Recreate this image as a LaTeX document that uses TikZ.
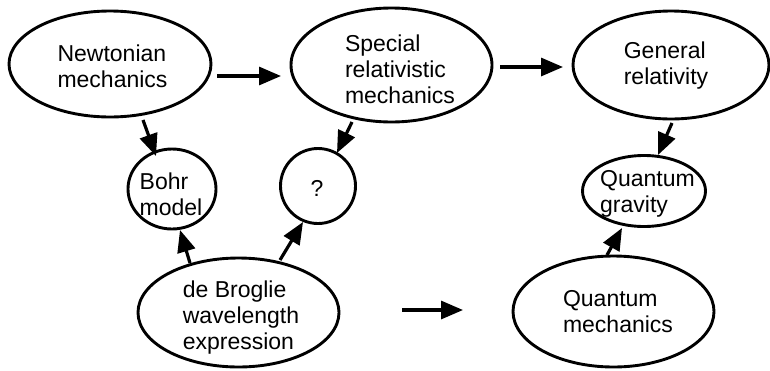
\documentclass[tikz,border=0pt]{standalone}
\usepackage{fontspec}
\setmainfont{Liberation Sans}
\usetikzlibrary{shapes.geometric,arrows.meta,calc}
\tikzset{
  ell/.style={draw, ellipse, line width=2.9pt, inner sep=0pt},
  txt/.style={inner sep=0pt, align=left, font=\fontsize{23}{26}\selectfont},
  arr/.style={line width=3.2pt, -{Triangle[length=22pt,width=18pt]}}
}
\begin{document}
\begin{tikzpicture}[x=1pt,y=-1pt]
\useasboundingbox (0,0) rectangle (770,370);
% ellipses
\node[ell, minimum width=202pt, minimum height=106pt] (N) at (110,64) {};
\node[ell, minimum width=201pt, minimum height=114pt] (S) at (391.5,65) {};
\node[ell, minimum width=196pt, minimum height=108pt] (G) at (671,65) {};
\node[ell, minimum width=88pt, minimum height=80pt] (B) at (172,189) {};
\node[ell, minimum width=75pt, minimum height=75pt] (Q) at (318,186) {};
\node[ell, minimum width=123pt, minimum height=71pt] (QG) at (644,191) {};
\node[ell, minimum width=201pt, minimum height=109pt] (D) at (238.5,312.5) {};
\node[ell, minimum width=201pt, minimum height=111pt] (QM) at (613.5,311.5) {};
% texts
\node[txt] (Nt) at (112.5,66.5) {Newtonian\\mechanics};
\node[txt] (St) at (400,69) {Special\\relativistic\\mechanics};
\node[txt] (Gt) at (666,66) {General\\relativity};
\node[txt] (Bt) at (171,194.5) {Bohr\\model};
\node[txt] (Qt) at (317,188) {?};
\node[txt] (QGt) at (647.5,193.5) {Quantum\\gravity};
\node[txt] (Dt) at (241,317.5) {de Broglie\\wavelength\\expression};
\node[txt] (QMt) at (618,312) {Quantum\\mechanics};
% arrows
\draw[arr] ($(N.center)+(107,12)$) -- ($(S.center)+(-110.5,11)$);
\draw[arr] ($(S.center)+(108.5,2)$) -- ($(G.center)+(-108,2)$);
\draw[arr] ($(N.center)+(33,56)$) -- ($(B.center)+(-16,-33)$);
\draw[arr] ($(S.center)+(-39.5,57)$) -- ($(Q.center)+(19,-33)$);
\draw[arr] ($(G.center)+(1,58)$) -- ($(QG.center)+(14,-36)$);
\draw[arr] ($(D.center)+(-48.5,-49.5)$) -- ($(B.center)+(8,41)$);
\draw[arr] ($(D.center)+(41.5,-52.5)$) -- ($(Q.center)+(-15,36)$);
\draw[arr] ($(QM.center)+(-6.5,-56.5)$) -- ($(QG.center)+(-22,37)$);
\draw[arr] ($(D.center)+(163.5,-2.5)$) -- ($(QM.center)+(-150.5,-1.5)$);
\end{tikzpicture}
\end{document}
